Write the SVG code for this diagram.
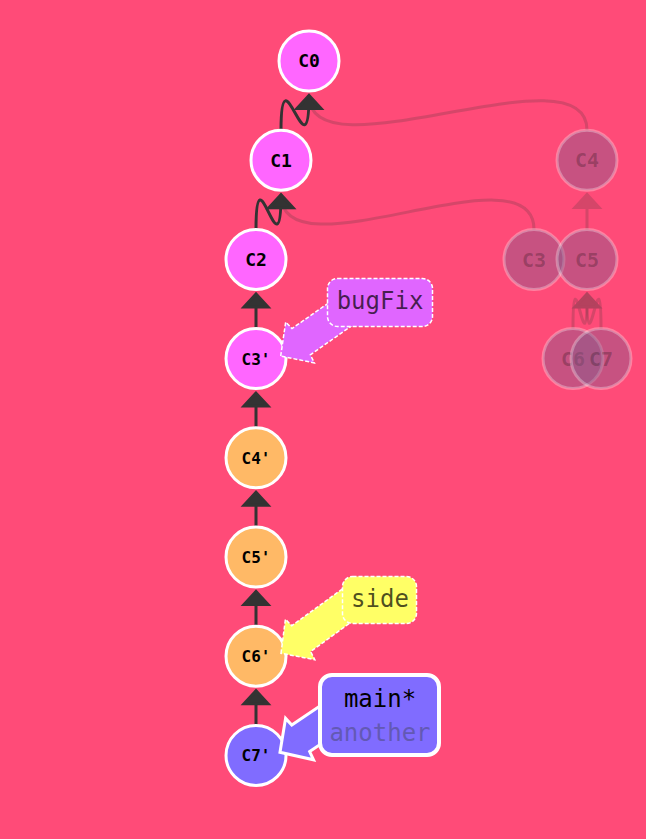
<svg xmlns="http://www.w3.org/2000/svg" width="646" height="839" viewBox="0 0 646 839">
<defs>
<style>
.edge{fill:none;stroke:#333;stroke-width:3}
.ah{fill:#333;stroke:#333;stroke-width:3;stroke-linejoin:miter}
.node circle{stroke:#fff;stroke-width:3}
.ct{font-family:"DejaVu Sans Mono",monospace;font-weight:bold;text-anchor:middle;fill:#000}
.c2{font-size:18px}
.c3{font-size:16px}
.ghost circle{fill:#835c8c;fill-opacity:0.45;stroke:#fff;stroke-opacity:0.3;stroke-width:3}
.ghost text{fill:#000;fill-opacity:0.24;font-size:20px}
.bt{font-family:"DejaVu Sans Mono",monospace;font-size:24px;text-anchor:middle}
.dash{stroke:#fff;stroke-width:1.5;stroke-dasharray:4 2}
</style>
</defs>
<rect x="0" y="0" width="646" height="839" fill="#ff4b78"/>
<g id="connectors">
  <g id="ghost-edges">
    <g opacity="0.2"><path class="edge" d="M587,130 C587,45 309,180.5 309,95.5"/><polygon class="ah" points="309,95.5 297,108.5 321,108.5"/></g>
    <g opacity="0.2"><path class="edge" d="M534,229.5 C534,144.5 281,279.7 281,194.7"/><polygon class="ah" points="281,194.7 269,207.7 293,207.7"/></g>
    <g opacity="0.2"><path class="edge" d="M587,229.5 L587,194.5"/><polygon class="ah" points="587,194.5 575,207.5 599,207.5"/></g>
    <g opacity="0.2"><path class="edge" d="M573,328.5 C573,243.5 587,379 587,294"/><polygon class="ah" points="587,294 575,307 599,307"/></g>
    <g opacity="0.2"><path class="edge" d="M601,328.5 C601,243.5 587,379 587,294"/><polygon class="ah" points="587,294 575,307 599,307"/></g>
  </g>
  <g id="edges">
    <path class="edge" d="M281,130.2 C281,45.2 309,180.5 309,95.5"/><polygon class="ah" points="309,95.5 297,108.5 321,108.5"/>
    <path class="edge" d="M256,229.4 C256,144.4 281,279.7 281,194.7"/><polygon class="ah" points="281,194.7 269,207.7 293,207.7"/>
    <path class="edge" d="M256,328.6 L256,293.9"/><polygon class="ah" points="256,293.9 244,306.9 268,306.9"/>
    <path class="edge" d="M256,427.8 L256,393.1"/><polygon class="ah" points="256,393.1 244,406.1 268,406.1"/>
    <path class="edge" d="M256,527 L256,492.3"/><polygon class="ah" points="256,492.3 244,505.3 268,505.3"/>
    <path class="edge" d="M256,626.2 L256,591.5"/><polygon class="ah" points="256,591.5 244,604.5 268,604.5"/>
    <path class="edge" d="M256,725.4 L256,690.7"/><polygon class="ah" points="256,690.7 244,703.7 268,703.7"/>
  </g>
</g>
<g id="ghost-C4" class="ghost"><circle cx="587" cy="160.3" r="30"/><text class="ct" x="587" y="167.3">C4</text></g>
<g id="ghost-C3" class="ghost"><circle cx="534" cy="259.5" r="30"/><text class="ct" x="534" y="266.5">C3</text></g>
<g id="ghost-C5" class="ghost"><circle cx="587" cy="259.5" r="30"/><text class="ct" x="587" y="266.5">C5</text></g>
<g id="ghost-C6" class="ghost"><circle cx="573" cy="358.5" r="30"/><text class="ct" x="573" y="365.5">C6</text></g>
<g id="ghost-C7" class="ghost"><circle cx="601" cy="358.5" r="30"/><text class="ct" x="601" y="365.5">C7</text></g>
<g id="C0" class="node"><circle cx="309" cy="61" r="30" fill="#ff66ff"/><text class="ct c2" x="309" y="67.3">C0</text></g>
<g id="C1" class="node"><circle cx="281" cy="160.2" r="30" fill="#ff66ff"/><text class="ct c2" x="281" y="166.5">C1</text></g>
<g id="C2" class="node"><circle cx="256" cy="259.4" r="30" fill="#ff66ff"/><text class="ct c2" x="256" y="265.7">C2</text></g>
<g id="C3p" class="node"><circle cx="256" cy="358.6" r="30" fill="#ff66ff"/><text class="ct c3" x="256" y="364.6">C3'</text></g>
<g id="C4p" class="node"><circle cx="256" cy="457.8" r="30" fill="#ffb966"/><text class="ct c3" x="256" y="463.8">C4'</text></g>
<g id="C5p" class="node"><circle cx="256" cy="557" r="30" fill="#ffb966"/><text class="ct c3" x="256" y="563">C5'</text></g>
<g id="C6p" class="node"><circle cx="256" cy="656.2" r="30" fill="#ffb966"/><text class="ct c3" x="256" y="662.2">C6'</text></g>
<g id="C7p" class="node"><circle cx="256" cy="755.4" r="30" fill="#806cff"/><text class="ct c3" x="256" y="761.4">C7'</text></g>
<g id="branch-bugFix">
  <polygon transform="translate(280.7,356) rotate(-35)" points="0,0 23.6,-25 25,-16 85,-16 85,16 25,16 23.6,25" fill="#e066ff" class="dash"/>
  <rect x="327.5" y="278.5" width="105" height="48" rx="10" fill="#e066ff" class="dash"/>
  <text class="bt" x="380" y="309.3" fill="#000" fill-opacity="0.7">bugFix</text>
</g>
<g id="branch-side">
  <polygon transform="translate(281,653.3) rotate(-36)" points="0,0 23.6,-25 25,-16 95,-16 95,16 25,16 23.6,25" fill="#ffff66" class="dash"/>
  <rect x="342.5" y="576.5" width="74" height="47" rx="10" fill="#ffff66" class="dash"/>
  <text class="bt" x="380" y="606.7" fill="#000" fill-opacity="0.7">side</text>
</g>
<g id="branch-main">
  <polygon transform="translate(280,752.3) rotate(-34)" points="0,0 23.6,-25 25,-16 75,-16 75,16 25,16 23.6,25" fill="#806cff" stroke="#fff" stroke-width="3"/>
  <rect x="320" y="675" width="119" height="80" rx="12" fill="#806cff" stroke="#fff" stroke-width="4"/>
  <text class="bt" x="380" y="706.7" fill="#000">main*</text>
  <text class="bt" x="380" y="741" fill="#6359b4">another</text>
</g>
</svg>
